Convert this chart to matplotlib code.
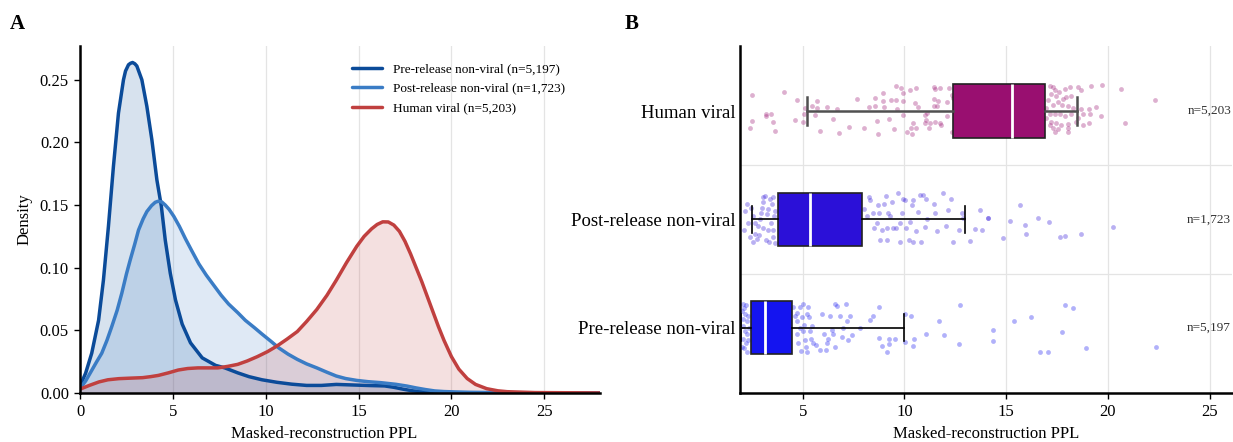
import matplotlib
matplotlib.use("Agg")
import matplotlib.pyplot as plt
import numpy as np

plt.rcParams['font.family'] = ['Liberation Serif', 'DejaVu Serif']
plt.rcParams['font.size'] = 12

# ---- panel A: density curves of masked-reconstruction PPL ----
pre_x = [0, 0.3, 0.63, 1.0, 1.26, 1.53, 1.8, 2.07, 2.34, 2.45, 2.61, 2.72, 2.83, 2.95, 3.06,
         3.33, 3.6, 3.87, 4.14, 4.38, 4.59, 4.86, 5.14, 5.5, 5.95, 6.58, 7.3, 7.8, 8.5, 9.1,
         9.8, 10.6, 11.4, 12.2, 13.0, 13.8, 14.6, 15.6, 16.4, 16.9, 17.4, 17.9, 18.5, 19.1,
         19.6, 28]
pre_y = [0.0055, 0.0157, 0.0317, 0.058, 0.090, 0.133, 0.181, 0.2234, 0.250, 0.257, 0.262,
         0.2632, 0.2638, 0.2628, 0.261, 0.250, 0.2287, 0.202, 0.170, 0.149, 0.122, 0.0956,
         0.0743, 0.055, 0.040, 0.028, 0.022, 0.020, 0.016, 0.013, 0.0105, 0.0085, 0.007,
         0.006, 0.006, 0.0068, 0.0064, 0.0059, 0.0056, 0.0045, 0.003, 0.0017, 0.0008, 0.0002,
         0.0, 0.0]

post_x = [0, 0.3, 0.63, 0.9, 1.17, 1.45, 1.71, 2.0, 2.25, 2.5, 2.7, 2.95, 3.15, 3.4, 3.6,
          3.85, 4.05, 4.2, 4.4, 4.59, 4.8, 5.05, 5.35, 5.68, 6.0, 6.4, 6.8, 7.2, 7.6, 8.0, 8.5,
          8.9, 9.4, 9.8, 10.3, 10.7, 11.2, 11.7, 12.2, 12.75, 13.3, 13.8, 14.3, 14.9, 15.5,
          16.2, 17.0, 17.6, 18.1, 18.6, 19.1, 19.6, 20.2, 21.0, 22.3, 24.0, 28]
post_y = [0.0035, 0.0095, 0.018, 0.025, 0.0317, 0.042, 0.053, 0.066, 0.0796, 0.095, 0.106,
          0.119, 0.130, 0.139, 0.1448, 0.1495, 0.1522, 0.1530, 0.1525, 0.150, 0.1465, 0.141,
          0.133, 0.123, 0.114, 0.103, 0.094, 0.086, 0.078, 0.071, 0.064, 0.058, 0.052, 0.047,
          0.041, 0.036, 0.031, 0.0268, 0.0232, 0.020, 0.0165, 0.0135, 0.0115, 0.010, 0.009,
          0.0082, 0.0069, 0.0055, 0.004, 0.0027, 0.0016, 0.0011, 0.0008, 0.0005, 0.0003,
          0.0, 0.0]

vir_x = [0, 0.5, 1.02, 1.5, 2.09, 2.7, 3.37, 3.8, 4.22, 4.75, 5.29, 5.8, 6.35, 6.9, 7.42,
         7.95, 8.49, 9.0, 9.55, 10.1, 10.6, 11.15, 11.7, 12.2, 12.75, 13.3, 13.8, 14.35, 14.9,
         15.3, 15.7, 16.0, 16.3, 16.6, 16.9, 17.2, 17.5, 17.8, 18.1, 18.4, 18.7, 19.0, 19.3,
         19.6, 20.0, 20.4, 20.85, 21.3, 21.9, 22.5, 23.0, 24.5, 28]
vir_y = [0.003, 0.006, 0.0088, 0.0105, 0.0114, 0.0118, 0.0122, 0.013, 0.014, 0.016, 0.0183,
         0.0195, 0.020, 0.020, 0.020, 0.0212, 0.0228, 0.0255, 0.029, 0.033, 0.0374, 0.043,
         0.049, 0.057, 0.0666, 0.078, 0.090, 0.104, 0.117, 0.125, 0.131, 0.1345, 0.1366,
         0.1365, 0.134, 0.129, 0.121, 0.111, 0.100, 0.089, 0.077, 0.065, 0.053, 0.042, 0.029,
         0.019, 0.0115, 0.0068, 0.0034, 0.0017, 0.001, 0.0003, 0.0]

labels_a = ['Pre-release non-viral (n=5,197)', 'Post-release non-viral (n=1,723)',
            'Human viral (n=5,203)']
colors_a = ['#0b4b99', '#3a7cc5', '#c0403f']

# ---- panel B: box plots with jittered points ----
groups = ['Human viral', 'Post-release non-viral', 'Pre-release non-viral']
counts = ['n=5,203', 'n=1,723', 'n=5,197']
whislo = [5.2, 2.5, 1.98]
q1 = [12.4, 3.8, 2.46]
med = [15.3, 5.35, 3.15]
q3 = [16.92, 7.93, 4.49]
whishi = [18.5, 13.0, 10.0]
box_colors = ['#990f70', '#2b10d8', '#1414f0']

human_pts = [
    (2.49, -0.15), (4.10, -0.18), (4.70, -0.10), (2.49, 0.09), (3.18, 0.03), (3.20, 0.05),
    (3.43, 0.03), (3.52, 0.10), (2.43, 0.16), (3.62, 0.18), (4.64, 0.08), (5.00, 0.10),
    (5.11, -0.03), (5.08, 0.03), (5.44, -0.05), (5.72, -0.09), (5.69, -0.03), (5.62, 0.04),
    (6.21, -0.04), (6.70, -0.02), (6.48, 0.07), (5.85, 0.18), (6.77, 0.20), (7.26, 0.15),
    (7.67, -0.11), (8.03, 0.16), (8.28, -0.04), (8.54, -0.12), (8.57, -0.05), (8.67, 0.09),
    (8.72, 0.21), (8.97, -0.17), (8.97, -0.09), (9.00, -0.04), (9.25, 0.07), (9.33, -0.10),
    (9.48, 0.17), (9.57, -0.10), (9.61, -0.02), (9.59, -0.23), (9.82, -0.21), (9.95, -0.17),
    (9.93, -0.09), (9.95, 0.04), (10.11, 0.19), (10.26, -0.19), (10.34, 0.16), (10.38, 0.21),
    (10.43, 0.11), (10.51, -0.07), (10.57, 0.16), (10.59, -0.21), (10.67, -0.04), (11.03, 0.04),
    (11.07, 0.08), (11.03, 0.11), (11.10, 0.02), (11.21, 0.16), (11.26, 0.11), (11.43, -0.22),
    (11.52, -0.20), (11.46, -0.11), (11.44, -0.05), (11.67, -0.09), (11.59, -0.05), (11.51, 0.10),
    (11.74, 0.11), (11.82, 0.13), (11.75, -0.21), (12.07, 0.05), (12.08, -0.08), (12.21, -0.21),
    (12.34, -0.15), (12.38, -0.12), (12.34, 0.19),
    (17.13, -0.23), (17.30, -0.22), (17.38, -0.19), (17.21, -0.16), (17.46, -0.14), (17.62, -0.18),
    (17.87, -0.20), (17.95, -0.13), (17.79, -0.11), (18.16, -0.22), (18.20, -0.14), (18.52, -0.22),
    (18.69, -0.19), (19.18, -0.23), (19.70, -0.24), (20.62, -0.20), (22.30, -0.10), (17.05, -0.10),
    (17.30, -0.06), (17.54, -0.08), (17.74, -0.06), (18.03, -0.05), (18.28, -0.03), (18.69, -0.02),
    (19.05, -0.02), (19.43, -0.04), (17.13, 0.03), (17.38, 0.03), (17.67, 0.03), (17.87, 0.05),
    (18.20, 0.03), (18.52, 0.06), (18.77, 0.03), (19.13, 0.03), (19.67, 0.05), (17.21, 0.10),
    (17.46, 0.11), (17.70, 0.13), (18.03, 0.12), (18.44, 0.10), (18.77, 0.13), (19.08, 0.11),
    (20.82, 0.11), (17.30, 0.16), (17.54, 0.17), (18.03, 0.19), (17.38, 0.19), (17.13, 0.13),
    (18.03, 0.16), (16.97, -0.03), (16.97, 0.06),
]

post_pts = [
    (2.28, -0.14), (2.16, -0.08), (2.11, 0.10), (2.44, -0.11), (2.41, 0.16), (2.57, 0.21),
    (2.66, 0.13), (2.74, 0.18), (2.82, 0.06), (2.90, 0.00), (2.93, -0.06), (2.98, -0.11),
    (3.03, -0.21), (3.07, -0.16), (3.15, -0.22), (3.23, -0.05), (3.31, -0.10), (3.39, -0.19),
    (3.43, 0.03), (3.48, -0.14), (3.52, 0.10), (3.56, 0.16), (3.59, -0.03), (3.64, -0.08),
    (3.20, 0.19), (3.36, 0.21), (3.64, 0.22), (3.07, 0.08), (2.66, 0.03), (2.87, 0.14),
    (3.31, 0.10), (3.56, -0.21), (2.57, -0.03), (2.33, 0.03),
    (8.02, -0.10), (8.15, -0.03), (8.28, -0.21), (8.31, -0.18), (8.44, -0.06), (8.48, 0.08),
    (8.64, 0.03), (8.72, -0.13), (8.77, -0.06), (8.89, 0.10), (9.00, -0.14), (9.10, -0.22),
    (9.13, 0.19), (9.16, 0.08), (9.30, -0.03), (9.38, -0.16), (9.46, 0.08), (9.59, 0.08),
    (9.70, -0.24), (9.79, 0.21), (9.87, -0.06), (9.95, -0.19), (10.03, -0.18), (10.08, 0.08),
    (10.20, 0.19), (10.28, 0.02), (10.36, -0.13), (10.44, -0.18), (10.57, 0.11), (10.69, -0.07),
    (10.77, -0.23), (10.80, 0.21), (10.90, -0.23), (11.02, 0.07), (11.07, -0.19), (11.43, -0.14),
    (11.51, -0.06), (11.59, 0.11), (11.89, -0.24), (12.05, 0.06), (12.16, -0.09), (12.28, -0.19),
    (12.41, 0.21), (12.66, 0.10), (12.82, -0.06), (12.87, -0.01), (13.20, 0.20), (13.48, 0.09),
    (13.69, -0.09), (13.80, 0.10), (14.13, -0.01), (8.80, 0.19), (9.21, -0.06), (9.79, 0.03),
    (10.44, 0.21), (11.10, 0.00),
    (14.10, -0.01), (14.84, 0.17), (15.21, 0.01), (15.69, -0.13), (15.93, 0.05), (15.98, 0.13),
    (16.56, -0.01), (17.10, 0.02), (17.66, 0.16), (17.90, 0.15), (18.69, 0.13), (20.25, 0.07),
]

pre_pts = [
    (2.05, -0.22), (2.11, -0.18), (2.16, -0.13), (2.08, -0.08), (2.25, -0.06), (2.05, -0.02),
    (2.16, 0.03), (2.28, 0.06), (2.08, 0.10), (2.21, 0.14), (2.11, 0.19), (2.25, 0.22),
    (2.00, 0.18), (2.33, -0.11), (2.33, 0.11), (2.00, -0.16), (2.21, -0.21), (2.38, 0.00),
    (4.54, -0.19), (4.62, -0.11), (4.70, -0.06), (4.74, 0.06), (4.79, 0.14), (4.87, -0.19),
    (4.90, 0.21), (4.95, -0.10), (5.00, 0.03), (5.03, -0.22), (5.07, -0.03), (5.11, 0.11),
    (5.16, 0.18), (5.20, -0.13), (5.28, -0.19), (5.33, -0.10), (5.36, 0.03), (5.39, 0.10),
    (5.44, -0.02), (5.66, 0.16), (5.85, 0.20), (5.93, -0.13), (6.05, 0.06), (6.15, 0.20),
    (6.21, 0.14), (6.26, 0.10), (6.34, -0.11), (6.43, 0.02), (6.48, 0.06), (6.59, -0.22),
    (6.59, 0.18), (6.67, -0.20), (6.84, -0.11), (6.92, 0.08), (7.00, 0.00), (7.13, -0.22),
    (7.20, -0.06), (7.25, 0.11), (7.33, -0.11), (7.41, 0.07), (7.82, 0.00), (8.31, -0.07),
    (8.44, -0.11), (8.77, -0.19), (8.77, 0.09), (8.89, 0.17), (9.13, 0.22), (9.26, 0.15),
    (9.26, 0.10), (9.54, 0.10), (10.03, -0.13), (10.03, 0.13), (10.34, -0.11), (10.43, 0.17),
    (10.49, 0.10), (11.07, 0.06), (11.70, -0.06), (11.92, 0.07), (12.72, -0.21), (12.70, 0.15),
    (4.87, 0.00), (5.20, 0.22), (5.52, 0.14), (4.70, -0.14),
    (14.34, 0.02), (14.34, 0.12), (15.39, -0.06), (16.21, -0.10), (16.67, 0.22), (17.08, 0.22),
    (17.75, 0.04), (17.87, -0.21), (18.28, -0.18), (18.93, 0.19), (22.38, 0.18),
]
points = [human_pts, post_pts, pre_pts]

fig = plt.figure(figsize=(12.33, 4.42), dpi=100)
ax_a = fig.add_axes([0.0649, 0.111, 0.4217, 0.785])
ax_b = fig.add_axes([0.6002, 0.111, 0.3990, 0.785])

# --- A ---
for xs, ys, c, lab in zip([pre_x, post_x, vir_x], [pre_y, post_y, vir_y], colors_a, labels_a):
    ax_a.fill_between(xs, ys, color=c, alpha=0.16, lw=0)
    ax_a.plot(xs, ys, color=c, lw=2.5, label=lab, solid_capstyle='round',
              solid_joinstyle='round')
ax_a.set_xlim(0, 28)
ax_a.set_ylim(0, 0.277)
ax_a.set_xticks([0, 5, 10, 15, 20, 25])
ax_a.set_yticks([0, 0.05, 0.10, 0.15, 0.20, 0.25])
ax_a.yaxis.set_major_formatter(matplotlib.ticker.FormatStrFormatter('%.2f'))
ax_a.set_xlabel('Masked-reconstruction PPL')
ax_a.xaxis.set_label_coords(0.47, -0.095)
ax_a.set_ylabel('Density', labelpad=5)
ax_a.grid(axis='x', color='#e4e4e4', lw=0.9)
ax_a.set_axisbelow(True)
ax_a.legend(loc='upper left', bbox_to_anchor=(0.5, 0.985), frameon=False,
            fontsize=9.5, handlelength=2.3, labelspacing=0.55)

# --- B ---
for i, pts in enumerate(points):
    vals = [p[0] for p in pts]
    offs = [i + p[1] for p in pts]
    ax_b.scatter(vals, offs, s=12, color=box_colors[i], alpha=0.33, lw=0, zorder=2)

for i in range(3):
    stats = [dict(whislo=whislo[i], q1=q1[i], med=med[i], q3=q3[i], whishi=whishi[i], fliers=[])]
    wc = '#505050' if i == 0 else 'black'
    wl = 1.8 if i == 0 else 1.2
    ax_b.bxp(stats, positions=[i], widths=0.49, vert=False, patch_artist=True, showfliers=False,
             boxprops=dict(facecolor=box_colors[i], edgecolor='#222222', lw=1.2),
             medianprops=dict(color='white', lw=2),
             whiskerprops=dict(color=wc, lw=wl), capprops=dict(color=wc, lw=wl),
             capwidths=0.25, zorder=3)
    ax_b.text(0.998, i, counts[i], transform=ax_b.get_yaxis_transform(), ha='right',
              va='center', fontsize=9.5, color='#333333')

ax_b.set_xlim(1.92, 26.1)
ax_b.set_ylim(2.6, -0.6)
ax_b.set_yticks([0, 1, 2])
ax_b.set_yticklabels(groups)
ax_b.set_xticks([5, 10, 15, 20, 25])
ax_b.set_xlabel('Masked-reconstruction PPL')
ax_b.xaxis.set_label_coords(0.5, -0.095)
ax_b.grid(axis='x', color='#e4e4e4', lw=0.9)
for yl in [0.5, 1.5]:
    ax_b.axhline(yl, color='#e4e4e4', lw=0.9, zorder=0)
ax_b.set_axisbelow(True)

for ax in (ax_a, ax_b):
    for s in ('top', 'right'):
        ax.spines[s].set_visible(False)
    for s in ('left', 'bottom'):
        ax.spines[s].set_linewidth(1.8)
        ax.spines[s].set_color('black')
    ax.tick_params(axis='both', labelsize=12, length=4, width=1, direction='out', pad=4)
ax_b.tick_params(axis='y', labelsize=13.5, length=0, pad=3)

fig.text(0.008, 0.935, 'A', fontsize=15, fontweight='bold')
fig.text(0.507, 0.935, 'B', fontsize=15, fontweight='bold')

fig.savefig('out.png', dpi=100)
